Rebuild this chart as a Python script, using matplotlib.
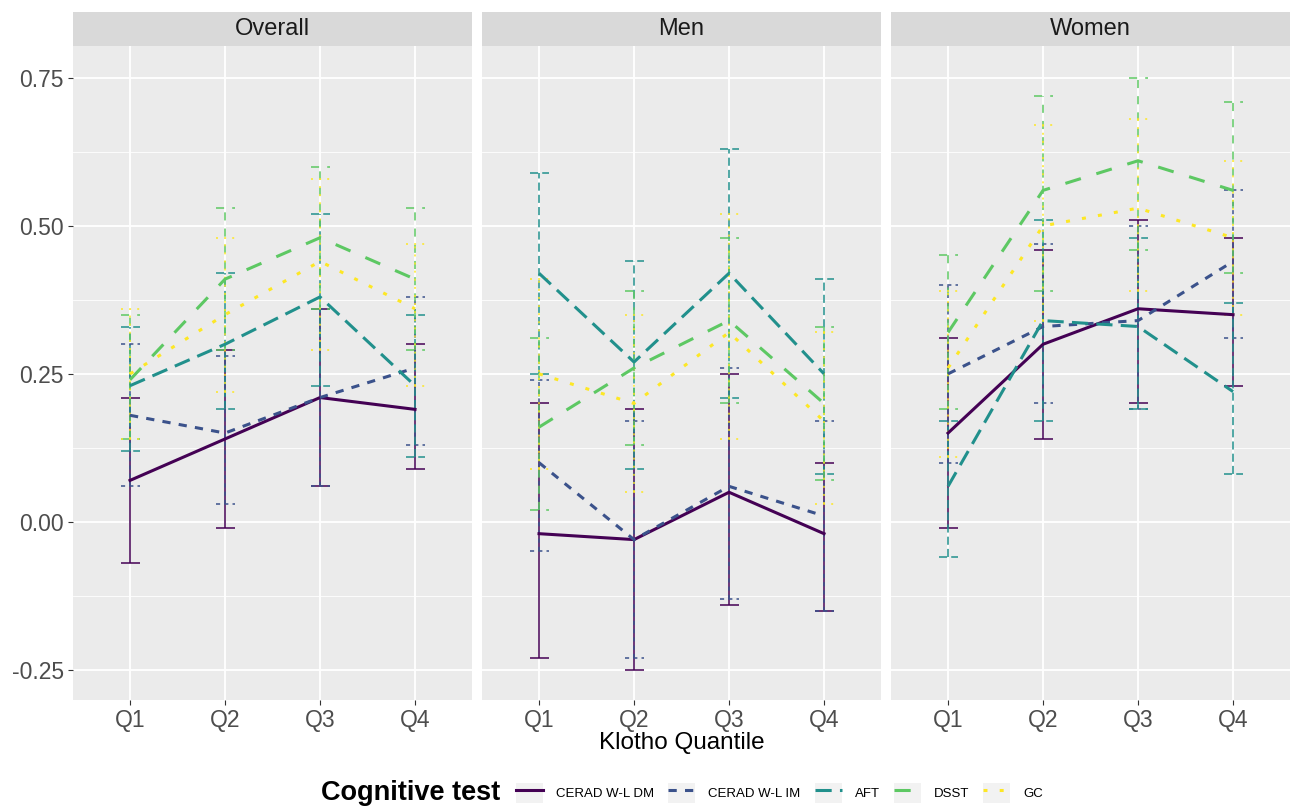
import numpy as np
import matplotlib
matplotlib.use("Agg")
import matplotlib.pyplot as plt
from matplotlib.lines import Line2D
from matplotlib.patches import Rectangle
from matplotlib.legend_handler import HandlerTuple

plt.rcParams['font.family'] = ['Liberation Sans', 'DejaVu Sans']

quantiles = ["Q1", "Q2", "Q3", "Q4"]
tests = ["CERAD W-L DM", "CERAD W-L IM", "AFT", "DSST", "GC"]
panels = ["Overall", "Men", "Women"]
y_ticks = [-0.25, 0.0, 0.25, 0.5, 0.75]
y_ticklabels = ["-0.25", "0.00", "0.25", "0.50", "0.75"]

# rows follow `tests`, columns follow `quantiles`
overall_est = [[0.07, 0.14, 0.21, 0.19],
               [0.18, 0.15, 0.21, 0.26],
               [0.23, 0.30, 0.38, 0.23],
               [0.24, 0.41, 0.48, 0.41],
               [0.25, 0.35, 0.44, 0.36]]
overall_lo = [[-0.07, -0.01, 0.06, 0.09],
              [0.06, 0.03, 0.06, 0.13],
              [0.12, 0.19, 0.23, 0.11],
              [0.14, 0.29, 0.36, 0.29],
              [0.14, 0.22, 0.29, 0.23]]
overall_hi = [[0.21, 0.29, 0.36, 0.30],
              [0.30, 0.28, 0.36, 0.38],
              [0.33, 0.42, 0.52, 0.35],
              [0.35, 0.53, 0.60, 0.53],
              [0.36, 0.48, 0.58, 0.47]]

men_est = [[-0.02, -0.03, 0.05, -0.02],
           [0.10, -0.03, 0.06, 0.01],
           [0.42, 0.27, 0.42, 0.25],
           [0.16, 0.26, 0.34, 0.20],
           [0.25, 0.20, 0.32, 0.17]]
men_lo = [[-0.23, -0.25, -0.14, -0.15],
          [-0.05, -0.23, -0.13, -0.15],
          [0.25, 0.09, 0.21, 0.08],
          [0.02, 0.13, 0.20, 0.07],
          [0.09, 0.05, 0.14, 0.03]]
men_hi = [[0.20, 0.19, 0.25, 0.10],
          [0.24, 0.17, 0.26, 0.17],
          [0.59, 0.44, 0.63, 0.41],
          [0.31, 0.39, 0.48, 0.33],
          [0.41, 0.35, 0.52, 0.32]]

women_est = [[0.15, 0.30, 0.36, 0.35],
             [0.25, 0.33, 0.34, 0.44],
             [0.06, 0.34, 0.33, 0.22],
             [0.32, 0.56, 0.61, 0.56],
             [0.26, 0.50, 0.53, 0.48]]
women_lo = [[-0.01, 0.14, 0.20, 0.23],
            [0.10, 0.20, 0.19, 0.31],
            [-0.06, 0.17, 0.19, 0.08],
            [0.19, 0.39, 0.46, 0.42],
            [0.11, 0.34, 0.39, 0.35]]
women_hi = [[0.31, 0.46, 0.51, 0.48],
            [0.40, 0.47, 0.50, 0.56],
            [0.17, 0.51, 0.48, 0.37],
            [0.45, 0.72, 0.75, 0.71],
            [0.39, 0.67, 0.68, 0.61]]

panel_data = [(overall_est, overall_lo, overall_hi),
              (men_est, men_lo, men_hi),
              (women_est, women_lo, women_hi)]

colors = ["#440154", "#3B528B", "#21908C", "#5DC863", "#FDE725"]
# ggplot linetypes: solid, 22, 42, 44, 13
dashes = ["-", (0, (2.7, 2.7)), (0, (5.3, 2.7)), (0, (5.3, 5.3)), (0, (1.3, 4.0))]

fig, axes = plt.subplots(1, 3, figsize=(12.92, 8.06), dpi=100, sharey=True)
fig.subplots_adjust(left=0.0565, right=0.9985, top=0.943, bottom=0.1315, wspace=0.025)

x = np.arange(1, len(quantiles) + 1)
for ax, name, (est, lo, hi) in zip(axes, panels, panel_data):
    ax.set_facecolor("#EBEBEB")
    for s in ax.spines.values():
        s.set_visible(False)
    ax.set_xlim(0.4, 4.6)
    ax.set_ylim(-0.301, 0.804)
    ax.set_xticks(x)
    ax.set_xticklabels(quantiles)
    ax.set_yticks(y_ticks)
    ax.set_yticklabels(y_ticklabels)
    ax.set_yticks([-0.125, 0.125, 0.375, 0.625], minor=True)
    ax.grid(True, which="major", color="white", linewidth=1.3)
    ax.grid(True, which="minor", axis="y", color="white", linewidth=0.6)
    ax.set_axisbelow(True)
    ax.tick_params(axis="both", which="major", length=3.6, width=0.8, color="#333333",
                   labelcolor="#4D4D4D", labelsize=16.5, pad=3.0)
    ax.tick_params(axis="y", which="minor", length=0)
    if ax is not axes[0]:
        ax.tick_params(axis="y", left=False, labelleft=False)

    for i in range(len(tests)):
        e = np.array(est[i]); l = np.array(lo[i]); h = np.array(hi[i])
        ax.vlines(x, l, h, color=colors[i], linestyle=dashes[i], linewidth=1.1)
        ax.hlines(l, x - 0.1, x + 0.1, color=colors[i], linestyle=dashes[i], linewidth=1.1)
        ax.hlines(h, x - 0.1, x + 0.1, color=colors[i], linestyle=dashes[i], linewidth=1.1)
    for i in range(len(tests)):
        ax.plot(x, est[i], color=colors[i], linestyle=dashes[i], linewidth=2.2)

    # facet strip
    strip_h = 34 / 654
    ax.add_patch(Rectangle((0, 1), 1, strip_h, transform=ax.transAxes,
                           facecolor="#D9D9D9", edgecolor="none", clip_on=False))
    ax.text(0.5, 1 + strip_h / 2, name, transform=ax.transAxes, ha="center",
            va="center", fontsize=17, color="#1A1A1A")

fig.text(0.5275, 0.078, "Klotho Quantile", ha="center", va="center", fontsize=17.5)

handles = []
for i in range(len(tests)):
    bg = Rectangle((0, 0), 1, 1, facecolor="#F2F2F2", edgecolor="none")
    ln = Line2D([], [], color=colors[i], linestyle=dashes[i], linewidth=2.2)
    handles.append((bg, ln))
leg = fig.legend(handles, tests, loc="center left", bbox_to_anchor=(0.3994, 0.0161),
                 ncol=5, frameon=False, fontsize=9.5, handlelength=2.05,
                 handleheight=2.05, handletextpad=1.0, columnspacing=1.05,
                 borderpad=0, borderaxespad=0,
                 handler_map={tuple: HandlerTuple(ndivide=1, pad=0)})
fig.text(0.387, 0.0161, "Cognitive test", ha="right", va="center",
         fontsize=19.5, fontweight="bold")

fig.savefig("out.png", dpi=100)
